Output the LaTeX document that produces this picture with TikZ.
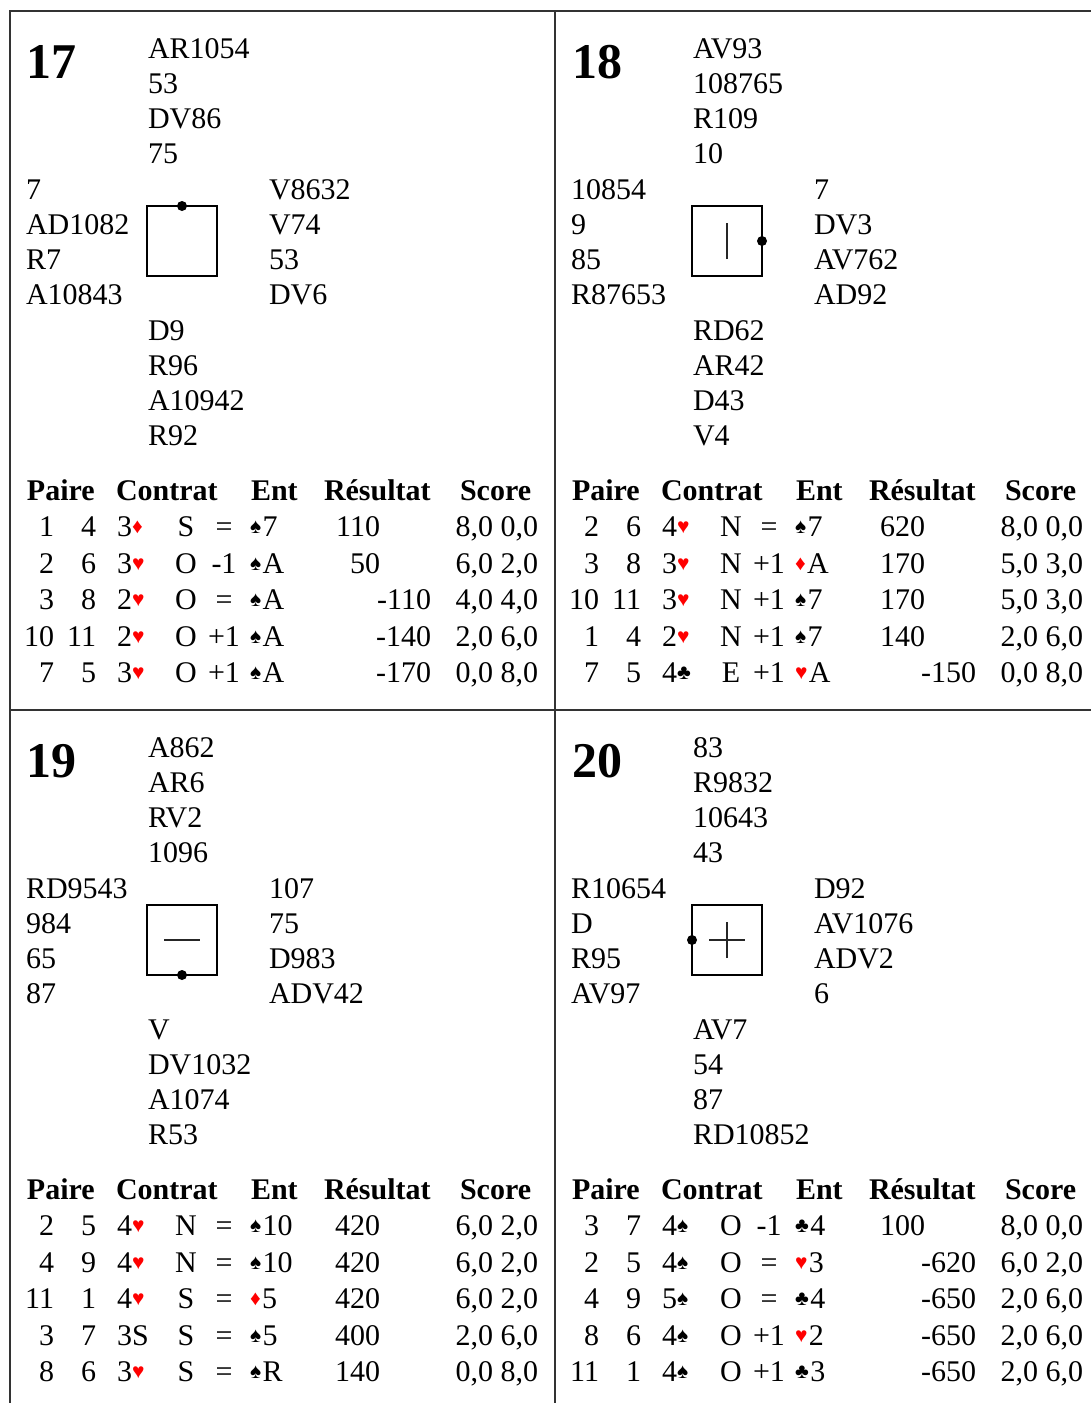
\documentclass[tikz,border=0pt]{standalone}
\usepackage{fontspec}
\setmainfont{Liberation Serif}
\usepackage{xcolor}
\usepackage{graphicx}
\newcommand\suitsym[1]{\raisebox{3pt}{\scalebox{0.7}{#1}}\hspace{1.5pt}}
\newcommand\SSp{\suitsym{♠}}
\newcommand\CCl{\suitsym{♣}}
\newcommand\HHe{\suitsym{\textcolor{red}{♥}}}
\newcommand\DDi{\suitsym{\textcolor{red}{♦}}}
\tikzset{
  tx/.style={inner sep=0pt, outer sep=0pt, font=\fontsize{30}{35}\selectfont},
  hd/.style={inner sep=0pt, outer sep=0pt, font=\fontsize{30}{35}\selectfont\bfseries, anchor=base west},
  boardnum/.style={inner sep=0pt, outer sep=0pt, font=\fontsize{50}{50}\selectfont\bfseries, anchor=base west},
  frameline/.style={line width=1.3pt, black!80},
  compassbox/.style={draw, line width=1.2pt, minimum size=70pt, inner sep=0pt, outer sep=0pt},
  innerline/.style={line width=1.2pt, black!85},
}
% hands: #1 id, #2 N, #3 W, #4 E, #5 S
\newcommand\hands[5]{%
  \foreach \t [count=\k from 0] in {#2} \node[tx, anchor=base west] (#1n\k) at (148,{58+35.3*\k}) {\t};
  \foreach \t [count=\k from 0] in {#3} \node[tx, anchor=base west] (#1w\k) at (26,{199+35.3*\k}) {\t};
  \foreach \t [count=\k from 0] in {#4} \node[tx, anchor=base west] (#1e\k) at (269,{199+35.3*\k}) {\t};
  \foreach \t [count=\k from 0] in {#5} \node[tx, anchor=base west] (#1s\k) at (148,{340+35.3*\k}) {\t};
}
% header
\newcommand\header[1]{%
  \node[hd] (#1h1) at (27,500) {Paire};
  \node[hd] (#1h2) at (116,500) {Contrat};
  \node[hd] (#1h3) at (251,500) {Ent};
  \node[hd] (#1h4) at (324,500) {Résultat};
  \node[hd] (#1h5) at (460,500) {Score};
}
% results: #1 id, #2 rows
\newcommand\results[2]{%
  \foreach \qa/\qb/\qc/\qd/\qe/\qf/\qg/\qh/\qi [count=\ii from 0] in {#2} {
    \pgfmathsetmacro\yy{536.5+36.5*\ii}
    \node[tx, anchor=base east] (#1a\ii) at (54,\yy) {\qa};
    \node[tx, anchor=base east] (#1b\ii) at (96,\yy) {\qb};
    \node[tx, anchor=base west] (#1c\ii) at (117,\yy) {\qc};
    \node[tx, anchor=base] (#1d\ii) at (186,\yy) {\qd};
    \node[tx, anchor=base] (#1r\ii) at (224,\yy) {\qe};
    \node[tx, anchor=base west] (#1l\ii) at (250,\yy) {\qf};
    \node[tx, anchor=base east] (#1p\ii) at (380,\yy) {\qg};
    \node[tx, anchor=base east] (#1m\ii) at (431,\yy) {\qh};
    \node[tx, anchor=base east] (#1x\ii) at (538,\yy) {\qi};
  }
}
\begin{document}
\begin{tikzpicture}[x=1pt, y=-1pt]
\useasboundingbox (0,0) rectangle (1091,1403);
\fill[white] (0,0) rectangle (1091,1403);
% frame
\draw[frameline] (10,1405) -- (10,11) -- (1093,11);
\draw[frameline] (555,11) -- (555,1405);
\draw[frameline] (10,710) -- (1093,710);

% ---------- Board 17 ----------
\begin{scope}
  \node[boardnum] (b17num) at (27,78) {17};
  \hands{b17}{AR1054,53,DV86,75}{7,AD1082,R7,A10843}{V8632,V74,53,DV6}{D9,R96,A10942,R92}
  \node[compassbox] (b17box) at (182,241) {};
  \fill (b17box.north) circle (5pt);
  \header{b17}
  \results{b17}{1/4/{3\DDi}/S/=/{\SSp 7}/110//{8,0 0,0},
                2/6/{3\HHe}/O/-1/{\SSp A}/50//{6,0 2,0},
                3/8/{2\HHe}/O/=/{\SSp A}//-110/{4,0 4,0},
                10/11/{2\HHe}/O/+1/{\SSp A}//-140/{2,0 6,0},
                7/5/{3\HHe}/O/+1/{\SSp A}//-170/{0,0 8,0}}
\end{scope}

% ---------- Board 18 ----------
\begin{scope}[shift={(545,0)}]
  \node[boardnum] (b18num) at (27,78) {18};
  \hands{b18}{AV93,108765,R109,10}{10854,9,85,R87653}{7,DV3,AV762,AD92}{RD62,AR42,D43,V4}
  \node[compassbox] (b18box) at (182,241) {};
  \fill (b18box.east) circle (5pt);
  \draw[innerline] ([yshift=-18pt]b18box.center) -- ([yshift=18pt]b18box.center);
  \header{b18}
  \results{b18}{2/6/{4\HHe}/N/=/{\SSp 7}/620//{8,0 0,0},
                3/8/{3\HHe}/N/+1/{\DDi A}/170//{5,0 3,0},
                10/11/{3\HHe}/N/+1/{\SSp 7}/170//{5,0 3,0},
                1/4/{2\HHe}/N/+1/{\SSp 7}/140//{2,0 6,0},
                7/5/{4\CCl}/E/+1/{\HHe A}//-150/{0,0 8,0}}
\end{scope}

% ---------- Board 19 ----------
\begin{scope}[shift={(0,699)}]
  \node[boardnum] (b19num) at (27,78) {19};
  \hands{b19}{A862,AR6,RV2,1096}{RD9543,984,65,87}{107,75,D983,ADV42}{V,DV1032,A1074,R53}
  \node[compassbox] (b19box) at (182,241) {};
  \fill (b19box.south) circle (5pt);
  \draw[innerline] ([xshift=-18pt]b19box.center) -- ([xshift=18pt]b19box.center);
  \header{b19}
  \results{b19}{2/5/{4\HHe}/N/=/{\SSp 10}/420//{6,0 2,0},
                4/9/{4\HHe}/N/=/{\SSp 10}/420//{6,0 2,0},
                11/1/{4\HHe}/S/=/{\DDi 5}/420//{6,0 2,0},
                3/7/3S/S/=/{\SSp 5}/400//{2,0 6,0},
                8/6/{3\HHe}/S/=/{\SSp R}/140//{0,0 8,0}}
\end{scope}

% ---------- Board 20 ----------
\begin{scope}[shift={(545,699)}]
  \node[boardnum] (b20num) at (27,78) {20};
  \hands{b20}{83,R9832,10643,43}{R10654,D,R95,AV97}{D92,AV1076,ADV2,6}{AV7,54,87,RD10852}
  \node[compassbox] (b20box) at (182,241) {};
  \fill (b20box.west) circle (5pt);
  \draw[innerline] ([yshift=-18pt]b20box.center) -- ([yshift=18pt]b20box.center);
  \draw[innerline] ([xshift=-18pt]b20box.center) -- ([xshift=18pt]b20box.center);
  \header{b20}
  \results{b20}{3/7/{4\SSp}/O/-1/{\CCl 4}/100//{8,0 0,0},
                2/5/{4\SSp}/O/=/{\HHe 3}//-620/{6,0 2,0},
                4/9/{5\SSp}/O/=/{\CCl 4}//-650/{2,0 6,0},
                8/6/{4\SSp}/O/+1/{\HHe 2}//-650/{2,0 6,0},
                11/1/{4\SSp}/O/+1/{\CCl 3}//-650/{2,0 6,0}}
\end{scope}
\end{tikzpicture}
\end{document}
